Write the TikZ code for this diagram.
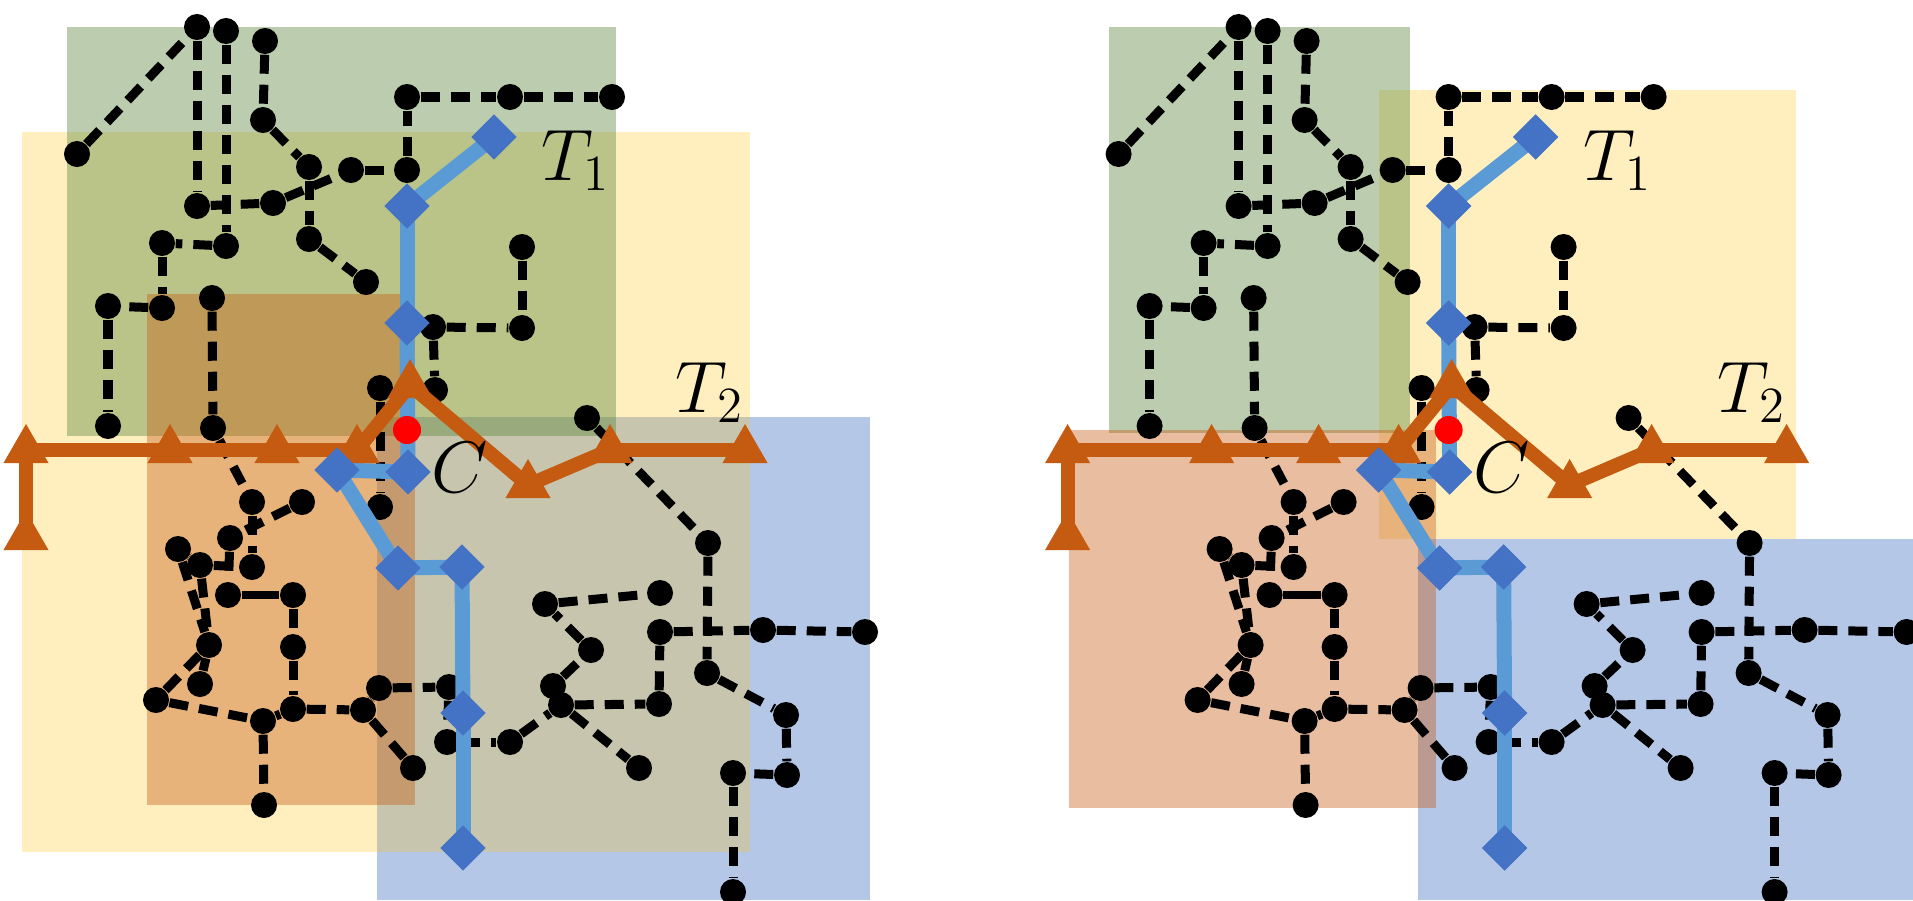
\documentclass[tikz,border=0pt]{standalone}
\usetikzlibrary{shapes.geometric}
\pgfdeclarelayer{rects}
\pgfdeclarelayer{bedge}
\pgfdeclarelayer{bluel}
\pgfdeclarelayer{orl}
\pgfdeclarelayer{tris}
\pgfdeclarelayer{dias}
\pgfdeclarelayer{toplayer}
\pgfsetlayers{rects,bedge,main,bluel,orl,tris,dias,toplayer}
\definecolor{cgreen}{RGB}{84,130,53}
\definecolor{cyellow}{RGB}{255,192,0}
\definecolor{corange}{RGB}{197,90,17}
\definecolor{cblue}{RGB}{68,114,196}
\definecolor{cbline}{RGB}{91,155,213}
\definecolor{cred}{RGB}{255,0,0}
\tikzset{
  bdot/.style={circle, fill=black, inner sep=0pt, minimum size=0.26cm},
  dashe/.style={line width=0.09cm, dash pattern=on 0.19cm off 0.11cm},
  sole/.style={solid, line width=0.08cm},
  dia/.style={diamond, fill=cblue, inner sep=0pt, minimum size=0.46cm},
  otri/.style={regular polygon, regular polygon sides=3, fill=corange, inner sep=0pt, minimum size=0.52cm},
  bluepath/.style={solid, line width=0.15cm, draw=cbline},
  orpath/.style={solid, line width=0.14cm, draw=corange},
  region/.style={fill opacity=0.4, draw=none},
  lab/.style={inner sep=0pt, font=\fontsize{20.74}{25}\selectfont},
}
\newcommand{\mygraph}{%
  % black tree nodes
  \node[bdot] (n1) at (197,27) {};
  \node[bdot] (n2) at (226,31) {};
  \node[bdot] (n3) at (265,41) {};
  \node[bdot] (n4) at (77,154) {};
  \node[bdot] (n5) at (197,206) {};
  \node[bdot] (n6) at (226,246) {};
  \node[bdot] (n7) at (263,120) {};
  \node[bdot] (n8) at (309,167) {};
  \node[bdot] (n9) at (309,239) {};
  \node[bdot] (n10) at (366,282) {};
  \node[bdot] (n11) at (273,203) {};
  \node[bdot] (n12) at (351,170) {};
  \node[bdot] (n13) at (407,170) {};
  \node[bdot] (n14) at (407,97) {};
  \node[bdot] (n15) at (510,97) {};
  \node[bdot] (n16) at (612,97) {};
  \node[bdot] (n17) at (162,243) {};
  \node[bdot] (n18) at (162,308) {};
  \node[bdot] (n19) at (108,306) {};
  \node[bdot] (n20) at (108,426) {};
  \node[bdot] (n21) at (212,298) {};
  \node[bdot] (n22) at (213,428) {};
  \node[bdot] (n23) at (433,327) {};
  \node[bdot] (n24) at (522,247) {};
  \node[bdot] (n25) at (522,328) {};
  \node[bdot] (n26) at (435,390) {};
  \node[bdot] (n27) at (380,388) {};
  \node[bdot] (n28) at (587,418) {};
  \node[bdot] (n29) at (380,507) {};
  \node[bdot] (n30) at (708,543) {};
  \node[bdot] (n31) at (707,673) {};
  \node[bdot] (n32) at (660,632) {};
  \node[bdot] (n33) at (763,630) {};
  \node[bdot] (n34) at (865,632) {};
  \node[bdot] (n35) at (659,704) {};
  \node[bdot] (n36) at (561,705) {};
  \node[bdot] (n37) at (553,686) {};
  \node[bdot] (n38) at (591,650) {};
  \node[bdot] (n39) at (545,604) {};
  \node[bdot] (n40) at (660,593) {};
  \node[bdot] (n41) at (639,768) {};
  \node[bdot] (n42) at (510,742) {};
  \node[bdot] (n43) at (447,742) {};
  \node[bdot] (n44) at (449,687) {};
  \node[bdot] (n45) at (379,688) {};
  \node[bdot] (n46) at (786,715) {};
  \node[bdot] (n47) at (787,775) {};
  \node[bdot] (n48) at (733,773) {};
  \node[bdot] (n49) at (733,892) {};
  \node[bdot] (n50) at (252,502) {};
  \node[bdot] (n51) at (302,502) {};
  \node[bdot] (n52) at (230,538) {};
  \node[bdot] (n53) at (252,567) {};
  \node[bdot] (n54) at (178,549) {};
  \node[bdot] (n55) at (200,565) {};
  \node[bdot] (n56) at (228,595) {};
  \node[bdot] (n57) at (293,595) {};
  \node[bdot] (n58) at (209,645) {};
  \node[bdot] (n59) at (293,647) {};
  \node[bdot] (n60) at (200,684) {};
  \node[bdot] (n61) at (156,700) {};
  \node[bdot] (n62) at (263,721) {};
  \node[bdot] (n63) at (293,709) {};
  \node[bdot] (n64) at (363,710) {};
  \node[bdot] (n65) at (413,768) {};
  \node[bdot] (n66) at (264,805) {};
  \begin{pgfonlayer}{bedge}
    \draw[dashe] (n4) -- (n1);
    \draw[dashe] (n1) -- (n5);
    \draw[dashe] (n2) -- (n6);
    \draw[dashe] (n3) -- (n7);
    \draw[dashe] (n7) -- (n8);
    \draw[dashe] (n8) -- (n9);
    \draw[dashe] (n9) -- (n10);
    \draw[dashe] (n5) -- (n11);
    \draw[dashe] (n11) -- (n12);
    \draw[dashe] (n12) -- (n13);
    \draw[dashe] (n13) -- (n14);
    \draw[dashe] (n14) -- (n15);
    \draw[dashe] (n15) -- (n16);
    \draw[dashe] (n6) -- (n17);
    \draw[dashe] (n17) -- (n18);
    \draw[dashe] (n18) -- (n19);
    \draw[dashe] (n19) -- (n20);
    \draw[dashe] (n21) -- (n22);
    \draw[dashe] (n22) -- (n50);
    \draw[dashe] (n50) -- (n53);
    \draw[dashe] (n51) -- (n52);
    \draw[dashe] (n52) -- (n56);
    \draw[dashe] (n55) -- (n53);
    \draw[dashe] (n54) -- (n55);
    \draw[dashe] (n54) -- (n58);
    \draw[dashe] (n55) -- (n58);
    \draw[sole] (n56) -- (n57);
    \draw[dashe] (n57) -- (n59);
    \draw[dashe] (n59) -- (n63);
    \draw[dashe] (n58) -- (n60);
    \draw[dashe] (n58) -- (n61);
    \draw[dashe] (n61) -- (n62);
    \draw[dashe] (n62) -- (n63);
    \draw[dashe] (n62) -- (n66);
    \draw[dashe] (n63) -- (n64);
    \draw[dashe] (n64) -- (n45);
    \draw[dashe] (n64) -- (n65);
    \draw[dashe] (n45) -- (n44);
    \draw[dashe] (n44) -- (n43);
    \draw[dashe] (n43) -- (n42);
    \draw[dashe] (n42) -- (n36);
    \draw[dashe] (n36) -- (n37);
    \draw[dashe] (n37) -- (n38);
    \draw[dashe] (n38) -- (n39);
    \draw[dashe] (n39) -- (n40);
    \draw[dashe] (n36) -- (n41);
    \draw[dashe] (n36) -- (n35);
    \draw[dashe] (n35) -- (n32);
    \draw[dashe] (n32) -- (n33);
    \draw[dashe] (n33) -- (n34);
    \draw[dashe] (n28) -- (n30);
    \draw[dashe] (n30) -- (n31);
    \draw[dashe] (n31) -- (n46);
    \draw[dashe] (n46) -- (n47);
    \draw[dashe] (n47) -- (n48);
    \draw[dashe] (n48) -- (n49);
    \draw[dashe] (n23) -- (n25);
    \draw[dashe] (n24) -- (n25);
    \draw[dashe] (n23) -- (n26);
    \draw[dashe] (n27) -- (n29);
  \end{pgfonlayer}
  % blue tree T1
  \begin{pgfonlayer}{dias}
    \node[dia] (d1) at (494,137) {};
    \node[dia] (d2) at (407,206) {};
    \node[dia] (d3) at (407,323) {};
    \node[dia] (d4) at (408,472) {};
    \node[dia] (d5) at (337,470) {};
    \node[dia] (d6) at (398,568) {};
    \node[dia] (d7) at (462,567) {};
    \node[dia] (d8) at (463,713) {};
    \node[dia] (d9) at (463,848) {};
  \end{pgfonlayer}
  \begin{pgfonlayer}{bluel}
    \draw[bluepath] (d1.center) -- (d2.center);
    \draw[bluepath] (d2.center) -- (d3.center);
    \draw[bluepath] (d3.center) -- (d4.center);
    \draw[bluepath] (d4.center) -- (d5.center);
    \draw[bluepath] (d5.center) -- (d6.center);
    \draw[bluepath] (d6.center) -- (d7.center);
    \draw[bluepath] (d7.center) -- (d8.center);
    \draw[bluepath] (d8.center) -- (d9.center);
  \end{pgfonlayer}
  % orange tree T2
  \begin{pgfonlayer}{tris}
    \node[otri] (p0) at (26,537) {};
    \node[otri] (p1) at (26,450) {};
    \node[otri] (p2) at (170,450) {};
    \node[otri] (p3) at (277,450) {};
    \node[otri] (p4) at (357,450) {};
    \node[otri] (p5) at (410,385) {};
    \node[otri] (p6) at (528,485) {};
    \node[otri] (p7) at (610,450) {};
    \node[otri] (p8) at (745,450) {};
  \end{pgfonlayer}
  \begin{pgfonlayer}{orl}
    \draw[orpath] (p0.center) -- (p1.center);
    \draw[orpath] (p1.center) -- (p2.center);
    \draw[orpath] (p2.center) -- (p3.center);
    \draw[orpath] (p3.center) -- (p4.center);
    \draw[orpath] (p4.center) -- (p5.center);
    \draw[orpath] (p5.center) -- (p6.center);
    \draw[orpath] (p6.center) -- (p7.center);
    \draw[orpath] (p7.center) -- (p8.center);
  \end{pgfonlayer}
  \begin{pgfonlayer}{toplayer}
    \node[circle, fill=cred, inner sep=0pt, minimum size=0.28cm] (cdot) at (407,430) {};
    \node[lab, anchor=base west] (lc) at (431,492) {$C$};
    \node[lab, anchor=base west] (lt1) at (541,180) {$T_1$};
    \node[lab, anchor=base west] (lt2) at (675,412) {$T_2$};
  \end{pgfonlayer}
}
\begin{document}
\begin{tikzpicture}[x=0.01cm, y=-0.01cm]
  \useasboundingbox (0,0) rectangle (1913,900);
  \begin{pgfonlayer}{rects}
    % left panel
    \fill[region, cblue] (377,417) rectangle (870,900);
    \fill[region, cyellow, fill opacity=0.25] (22,132) rectangle (750,852);
    \fill[region, cgreen] (67,27) rectangle (616,436);
    \fill[region, corange] (147,294) rectangle (415,805);
    % right panel
    \fill[region, cblue] (1418,539) rectangle (1913,900);
    \fill[region, cyellow, fill opacity=0.25] (1379,90) rectangle (1796,539);
    \fill[region, cgreen] (1109,27) rectangle (1410,433);
    \fill[region, corange] (1069,430) rectangle (1436,808);
  \end{pgfonlayer}
  \begin{scope}[name prefix=L-]
    \mygraph
  \end{scope}
  \begin{scope}[xshift=10.41cm, name prefix=R-]
    \mygraph
  \end{scope}
\end{tikzpicture}
\end{document}
